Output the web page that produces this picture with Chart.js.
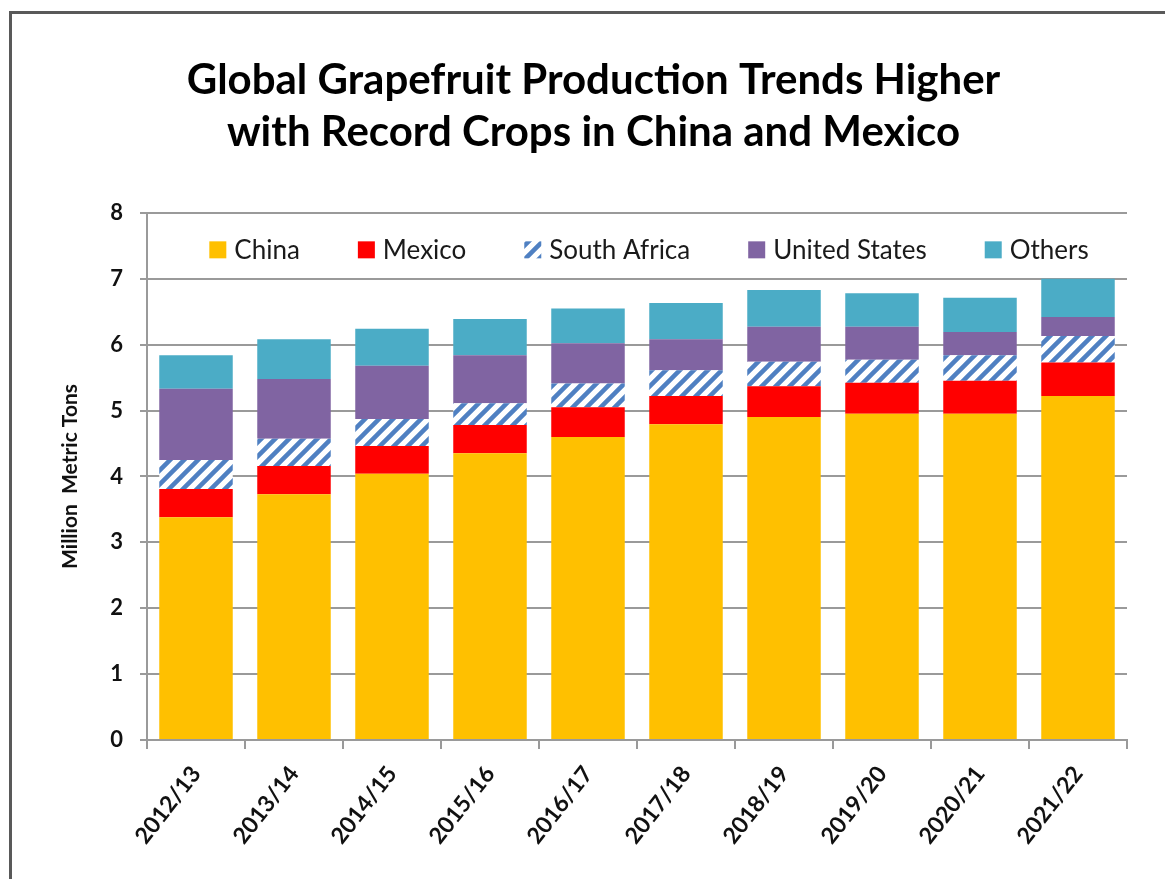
<!DOCTYPE html>
<html>
<head>
<meta charset="utf-8">
<script src="https://cdn.jsdelivr.net/npm/chart.js@4.4.1/dist/chart.umd.min.js"></script>
<style>
  html, body { margin: 0; padding: 0; background: #fff; overflow: hidden; }
  /* outer frame, only left and top edges are visible in the picture */
  #frame {
    position: absolute; left: 9px; top: 11px; width: 1300px; height: 1000px;
    border-left: 3px solid #595959; border-top: 3px solid #595959;
  }
  #grapefruit-chart { position: absolute; left: 0; top: 0; }
</style>
</head>
<body>
<div id="frame"></div>
<canvas id="grapefruit-chart" width="1165" height="879"></canvas>
<script>
/* Global grapefruit production, million metric tons */
const seasons = ['2012/13', '2013/14', '2014/15', '2015/16', '2016/17',
  '2017/18', '2018/19', '2019/20', '2020/21', '2021/22'];

const chinaValues = [3.38, 3.73, 4.04, 4.35, 4.60, 4.79, 4.90, 4.95, 4.95, 5.22];
const mexicoValues = [0.43, 0.43, 0.42, 0.43, 0.45, 0.43, 0.47, 0.47, 0.50, 0.51];
const southAfricaValues = [0.44, 0.41, 0.41, 0.33, 0.36, 0.39, 0.37, 0.35, 0.39, 0.40];
const unitedStatesValues = [1.08, 0.91, 0.81, 0.73, 0.61, 0.47, 0.53, 0.50, 0.35, 0.29];
const othersValues = [0.51, 0.60, 0.56, 0.55, 0.53, 0.55, 0.56, 0.51, 0.52, 0.58];

const yTicks = [0, 1, 2, 3, 4, 5, 6, 7, 8];

const gridColor = '#9a9a9a';

const grapefruitCanvas = document.getElementById('grapefruit-chart');
const grapefruitCtx = grapefruitCanvas.getContext('2d');

/* blue diagonal hatch used for South Africa */
function makeHatch() {
  const tile = document.createElement('canvas');
  tile.width = 14;
  tile.height = 14;
  const g = tile.getContext('2d');
  g.fillStyle = '#ffffff';
  g.fillRect(0, 0, 14, 14);
  g.strokeStyle = '#4f80c2';
  g.lineWidth = 4.5;
  g.beginPath();
  g.moveTo(-3, 17); g.lineTo(17, -3);
  g.moveTo(-7, 7); g.lineTo(7, -7);
  g.moveTo(7, 21); g.lineTo(21, 7);
  g.stroke();
  return grapefruitCtx.createPattern(tile, 'repeat');
}

/* legend sits inside the plot, between the 7 and 8 gridlines */
const insideLegend = {
  id: 'insideLegend',
  afterDraw(chart, args, opts) {
    const { ctx, chartArea } = chart;
    ctx.save();
    ctx.font = opts.font;
    ctx.textBaseline = 'middle';
    const items = chart.data.datasets.map((ds) => ({
      text: ds.label,
      fill: ds.backgroundColor,
      w: ctx.measureText(ds.label).width,
    }));
    const total = items.reduce((s, it) => s + opts.box + opts.gap + it.w, 0) +
      opts.spacing * (items.length - 1);
    let x = (chartArea.left + chartArea.right) / 2 - total / 2 + opts.shiftX;
    const y = chartArea.top + opts.offsetY;
    items.forEach((it) => {
      ctx.fillStyle = it.fill;
      ctx.fillRect(x, y - opts.box / 2, opts.box, opts.box);
      ctx.fillStyle = opts.color;
      ctx.fillText(it.text, x + opts.box + opts.gap, y + 1);
      x += opts.box + opts.gap + it.w + opts.spacing;
    });
    ctx.restore();
  },
};

const dataGrapefruit = {
  labels: seasons,
  datasets: [
    { label: 'China', data: chinaValues, backgroundColor: '#ffc000' },
    { label: 'Mexico', data: mexicoValues, backgroundColor: '#ff0000' },
    { label: 'South Africa', data: southAfricaValues, backgroundColor: makeHatch() },
    { label: 'United States', data: unitedStatesValues, backgroundColor: '#8064a2' },
    { label: 'Others', data: othersValues, backgroundColor: '#4bacc6' },
  ],
};

const configGrapefruit = {
  type: 'bar',
  data: dataGrapefruit,
  plugins: [insideLegend],
  options: {
    responsive: false,
    animation: false,
    datasets: {
      bar: {
        categoryPercentage: 1,
        barPercentage: 0.75,
        borderWidth: 0,
      },
    },
    layout: {
      padding: { top: 0, right: 38, bottom: 0, left: 60 },
    },
    plugins: {
      legend: { display: false },
      tooltip: { enabled: false },
      title: {
        display: true,
        text: ['Global Grapefruit Production Trends Higher',
          'with Record Crops in China and Mexico'],
        color: '#000',
        font: { family: 'Lato', size: 42, weight: 'bold', lineHeight: 1.26 },
        padding: { top: 53.5, bottom: 53.5 },
      },
      insideLegend: {
        font: '26px Lato',
        color: '#1a1a1a',
        box: 17,
        gap: 8,
        spacing: 58,
        offsetY: 37,
        shiftX: 12,
      },
    },
    scales: {
      x: {
        stacked: true,
        afterFit: (scale) => { scale.height = 139; },
        grid: {
          offset: true,
          drawOnChartArea: false,
          drawTicks: true,
          tickLength: 9,
          color: gridColor,
          lineWidth: 2,
        },
        border: { display: true, color: gridColor, width: 2 },
        ticks: {
          color: '#111',
          font: { family: 'Lato', size: 23, weight: 'bold' },
          minRotation: 52,
          maxRotation: 52,
          padding: 12,
        },
      },
      y: {
        stacked: true,
        min: 0,
        max: 8,
        afterFit: (scale) => { scale.width = 87; },
        afterBuildTicks: (scale) => { scale.ticks = yTicks.map((v) => ({ value: v })); },
        grid: {
          color: gridColor,
          lineWidth: 2,
          tickLength: 7,
        },
        border: { display: true, color: gridColor, width: 2 },
        ticks: {
          color: '#111',
          font: { family: 'Lato', size: 22, weight: 'bold' },
          padding: 17,
        },
        title: {
          display: true,
          text: 'Million  Metric Tons',
          color: '#111',
          font: { family: 'Lato', size: 21, weight: 'bold', lineHeight: 1 },
          padding: { top: 0, bottom: 0 },
        },
      },
    },
  },
};

new Chart(grapefruitCtx, configGrapefruit);
</script>
</body>
</html>
